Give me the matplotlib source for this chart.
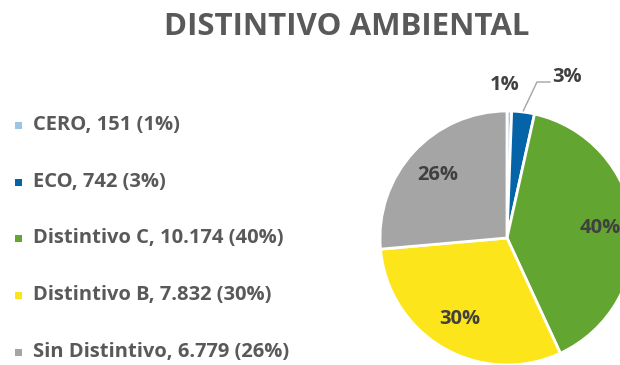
import numpy as np
import matplotlib.pyplot as plt

# vehicle counts by environmental label
categories = ["CERO", "ECO", "Distintivo C", "Distintivo B", "Sin Distintivo"]
counts = [151, 742, 10174, 7832, 6779]
percent_labels = [1, 3, 40, 30, 26]
colors = ["#9DC3E6", "#0563A8", "#63A531", "#FCE51A", "#A5A5A5"]

W, H = 620, 365
fig = plt.figure(figsize=(W / 100, H / 100), dpi=100)
ax = fig.add_axes([0, 0, 1, 1])

font = "Open Sans"
text_grey = "#595959"
label_grey = "#404040"

# pie, centre and radius in pixel units (y measured from the bottom)
cx, cy, r = 507, H - 238, 127
wedges, _ = ax.pie(counts, colors=colors, startangle=90, counterclock=False,
                   center=(cx, cy), radius=r, frame=True,
                   wedgeprops=dict(edgecolor="white", linewidth=2))
ax.set_xlim(0, W)
ax.set_ylim(0, H)
ax.set_aspect("equal")
ax.axis("off")

# percentage labels inside the larger slices
for w, pct in zip(wedges, percent_labels):
    if pct < 5:
        continue
    ang = np.deg2rad((w.theta1 + w.theta2) / 2)
    ax.text(cx + 0.74 * r * np.cos(ang), cy + 0.74 * r * np.sin(ang),
            f"{pct}%", ha="center", va="center", fontsize=14.5,
            fontweight="bold", color=label_grey, family=font)

# small slices: labels outside, one with a leader line
w1 = wedges[1]
ax.text(505, H - 85, f"{percent_labels[0]}%", ha="center", va="center",
        fontsize=14.5, fontweight="bold", color=label_grey, family=font)
a1 = np.deg2rad((w1.theta1 + w1.theta2) / 2)
x0, y0 = cx + 1.01 * r * np.cos(a1), cy + 1.01 * r * np.sin(a1)
ax.plot([x0, 537, 550], [y0, H - 82, H - 82], color="#A5A5A5", lw=1)
ax.text(567, H - 77, f"{percent_labels[1]}%", ha="center", va="center",
        fontsize=14.5, fontweight="bold", color=label_grey, family=font)

# title
ax.text(347, H - 27, "DISTINTIVO AMBIENTAL", ha="center", va="center",
        fontsize=22.5, fontweight="bold", color=text_grey, family=font)

# legend on the left
row_y = [125, 182, 238, 295, 352]
for name, n, pct, c, yy in zip(categories, counts, percent_labels, colors, row_y):
    ax.add_patch(plt.Rectangle((15, H - yy - 3.5), 7, 7, color=c, lw=0))
    label = f"{name}, {n:,} ({pct}%)".replace(",", ".").replace(".", ",", 1)
    ax.text(33, H - yy, label, ha="left", va="center", fontsize=14.5,
            fontweight="bold", color=text_grey, family=font)

fig.savefig("out.png", dpi=100)
